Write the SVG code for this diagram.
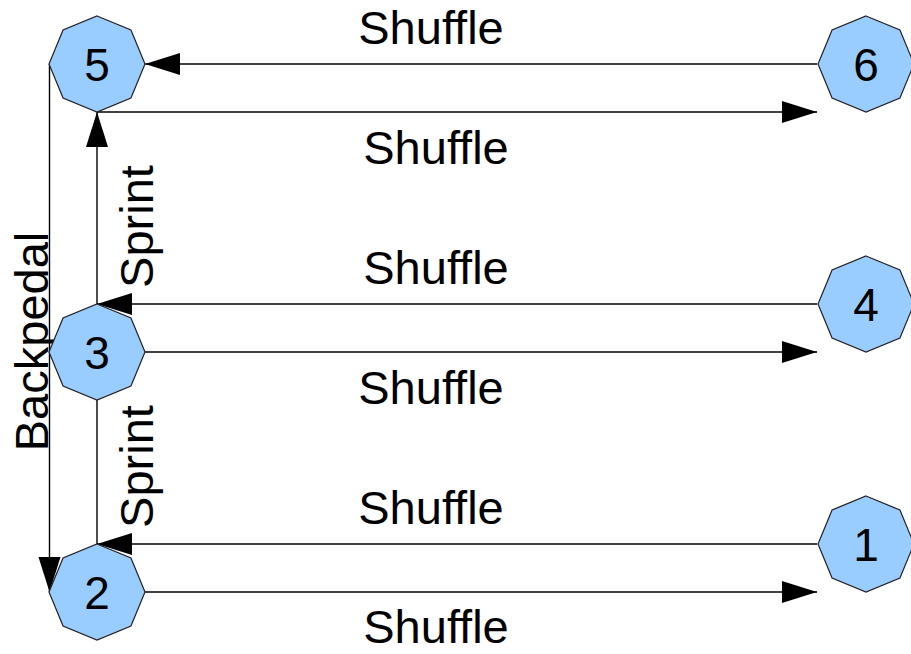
<svg xmlns="http://www.w3.org/2000/svg" xmlns:xlink="http://www.w3.org/1999/xlink" width="911" height="654" viewBox="0 0 911 654">
<style>
.edge{fill:none;stroke:#000;stroke-width:1.4}
.oct{fill:#99ccff;stroke:#222;stroke-width:1.2}
.num{font-family:"Liberation Sans",Arial,sans-serif;font-size:46px;fill:#000;text-anchor:middle}
.lbl{font-family:"Liberation Sans",Arial,sans-serif;font-size:47px;fill:#000;text-anchor:middle}
</style>
<defs>
<marker id="ah" markerUnits="userSpaceOnUse" markerWidth="36" markerHeight="24" refX="35" refY="11" orient="auto" viewBox="0 0 36 24">
<path d="M0,0 L35,11 L0,22 Z" fill="#000"/>
</marker>
<polygon id="octagon" class="oct" points="0,-48 33.94,-33.94 48,0 33.94,33.94 0,48 -33.94,33.94 -48,0 -33.94,-33.94"/>
</defs>
<g id="connectors">
<line class="edge" x1="817" y1="64" x2="145" y2="64" marker-end="url(#ah)"/>
<line class="edge" x1="97" y1="112" x2="817" y2="112" marker-end="url(#ah)"/>
<line class="edge" x1="817" y1="304" x2="97" y2="304" marker-end="url(#ah)"/>
<line class="edge" x1="145" y1="352" x2="817" y2="352" marker-end="url(#ah)"/>
<line class="edge" x1="817" y1="544" x2="97" y2="544" marker-end="url(#ah)"/>
<line class="edge" x1="145" y1="592" x2="817" y2="592" marker-end="url(#ah)"/>
<line class="edge" x1="97" y1="304" x2="97" y2="112" marker-end="url(#ah)"/>
<line class="edge" x1="97" y1="544" x2="97" y2="400"/>
<line class="edge" x1="49.5" y1="64" x2="49.5" y2="592" marker-end="url(#ah)"/>
<text class="lbl" x="431" y="44">Shuffle</text>
<text class="lbl" x="436" y="164">Shuffle</text>
<text class="lbl" x="436" y="284">Shuffle</text>
<text class="lbl" x="431" y="404">Shuffle</text>
<text class="lbl" x="431" y="524">Shuffle</text>
<text class="lbl" x="436" y="643">Shuffle</text>
<text class="lbl" transform="translate(153,226.5) rotate(-90)">Sprint</text>
<text class="lbl" transform="translate(153,466.5) rotate(-90)">Sprint</text>
<text class="lbl" transform="translate(48,341.5) rotate(-90)">Backpedal</text>
</g>
<g id="node5"><use xlink:href="#octagon" x="97" y="64"/><text class="num" x="97" y="81">5</text></g>
<g id="node6"><use xlink:href="#octagon" x="866" y="64"/><text class="num" x="866" y="81">6</text></g>
<g id="node3"><use xlink:href="#octagon" x="97" y="352"/><text class="num" x="97" y="369">3</text></g>
<g id="node4"><use xlink:href="#octagon" x="866" y="304"/><text class="num" x="866" y="321">4</text></g>
<g id="node2"><use xlink:href="#octagon" x="97" y="592"/><text class="num" x="97" y="609">2</text></g>
<g id="node1"><use xlink:href="#octagon" x="866" y="544"/><text class="num" x="866" y="561">1</text></g>
</svg>
